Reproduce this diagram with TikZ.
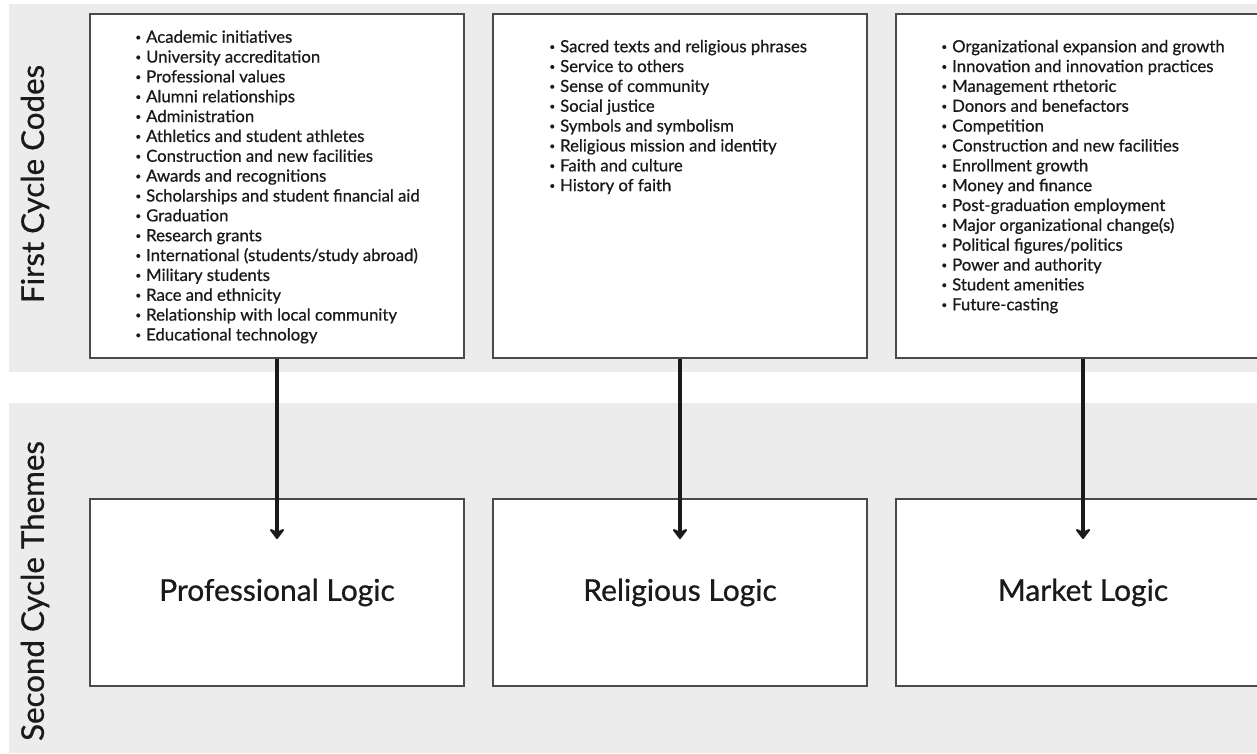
\documentclass[tikz,border=0pt]{standalone}
\usepackage{fontspec}
\setmainfont{Lato}
\newfontfamily\medfont{Lato}[FakeBold=0.7]
\usetikzlibrary{arrows.meta}
\definecolor{band}{HTML}{ECECEC}
\definecolor{frame}{HTML}{4A4A4A}
\definecolor{ink}{HTML}{1A1A1A}
\tikzset{
 bandbox/.style={fill=band, draw=none},
 codebox/.style={draw=frame, line width=1.4pt, fill=white, minimum width=374pt, minimum height=344pt, inner sep=0pt},
 themebox/.style={draw=frame, line width=1.4pt, fill=white, minimum width=374pt, minimum height=187pt, inner sep=0pt, font=\medfont\fontsize{30}{34}\selectfont, text=ink},
 item/.style={anchor=base west, inner sep=0pt, font=\medfont\fontsize{16.7}{19.85}\selectfont, text=ink},
 rowlabel/.style={rotate=90, font=\medfont\fontsize{31.3}{34}\selectfont, text=ink, inner sep=0pt},
 flow/.style={line width=3.6pt, draw=ink, -{Stealth[length=12pt,width=18pt,inset=4pt,round]}}
}
\newcommand\bul{\llap{\raisebox{0.25ex}{\fontsize{10}{10}\selectfont •}\hspace{5pt}}}
\begin{document}
\begin{tikzpicture}[x=1pt,y=-1pt]
\useasboundingbox (0,0) rectangle (1257,753);
\clip (0,0) rectangle (1257,753);
\fill[white] (0,0) rectangle (1257,753);
\fill[bandbox] (9,4) rectangle (1257,372);
\fill[bandbox] (9,403) rectangle (1257,753);
\node[rowlabel] (l1) at (35,184) {First Cycle Codes};
\node[rowlabel] (l2) at (35,591) {Second Cycle Themes};
% code boxes
\node[codebox] (b1) at (277,186) {};
\node[codebox] (b2) at (680,186) {};
\node[codebox] (b3) at (1083,186) {};
% theme boxes
\node[themebox] (t1) at (277,592.5) {Professional Logic};
\node[themebox] (t2) at (680,592.5) {Religious Logic};
\node[themebox] (t3) at (1083,592.5) {Market Logic};
% lists
\foreach \t [count=\i] in {{Academic initiatives},{University accreditation},{Professional values},{Alumni relationships},{Administration},{Athletics and student athletes},{Construction and new facilities},{Awards and recognitions},{Scholarships and student financial aid},{Graduation},{Research grants},{International (students/study abroad)},{Military students},{Race and ethnicity},{Relationship with local community},{Educational technology}}
  \node[item] (a\i) at (146,{42.7+19.85*(\i-1)}) {\bul\t};
\foreach \t [count=\i] in {{Sacred texts and religious phrases},{Service to others},{Sense of community},{Social justice},{Symbols and symbolism},{Religious mission and identity},{Faith and culture},{History of faith}}
  \node[item] (r\i) at (560,{52.2+19.85*(\i-1)}) {\bul\t};
\foreach \t [count=\i] in {{Organizational expansion and growth},{Innovation and innovation practices},{Management rthetoric},{Donors and benefactors},{Competition},{Construction and new facilities},{Enrollment growth},{Money and finance},{Post-graduation employment},{Major organizational change(s)},{Political figures/politics},{Power and authority},{Student amenities},{Future-casting}}
  \node[item] (m\i) at (952,{52.2+19.85*(\i-1)}) {\bul\t};
% arrows
\coordinate (e1) at (277,539);
\coordinate (e2) at (680,539);
\coordinate (e3) at (1083,539);
\draw[flow] (b1.south) -- (e1);
\draw[flow] (b2.south) -- (e2);
\draw[flow] (b3.south) -- (e3);
\end{tikzpicture}
\end{document}
